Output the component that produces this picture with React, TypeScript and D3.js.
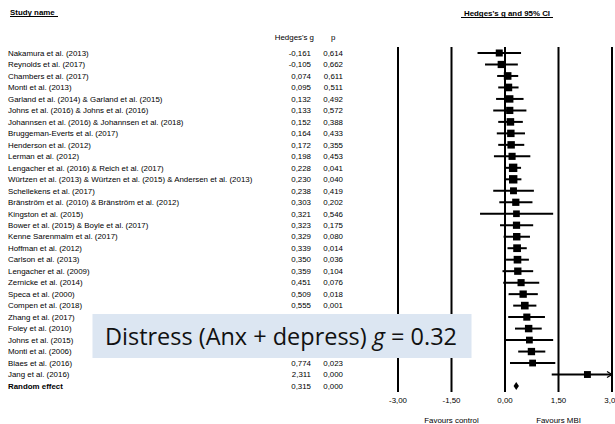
import React from 'react';
import * as d3 from 'd3';

// Study rows, top to bottom
const studies = [
  'Nakamura et al. (2013)',
  'Reynolds et al. (2017)',
  'Chambers et al. (2017)',
  'Monti et al. (2013)',
  'Garland et al. (2014) & Garland et al. (2015)',
  'Johns et al. (2016) & Johns et al. (2016)',
  'Johannsen et al. (2016) & Johannsen et al. (2018)',
  'Bruggeman-Everts et al. (2017)',
  'Henderson et al. (2012)',
  'Lerman et al. (2012)',
  'Lengacher et al. (2016) & Reich et al. (2017)',
  'Würtzen et al. (2013) & Würtzen et al. (2015) & Andersen et al. (2013)',
  'Schellekens et al. (2017)',
  'Bränström et al. (2010) & Bränström et al. (2012)',
  'Kingston et al. (2015)',
  'Bower et al. (2015) & Boyle et al. (2017)',
  'Kenne Sarenmalm et al. (2017)',
  'Hoffman et al. (2012)',
  'Carlson et al. (2013)',
  'Lengacher et al. (2009)',
  'Zernicke et al. (2014)',
  'Speca et al. (2000)',
  'Compen et al. (2018)',
  'Zhang et al. (2017)',
  'Foley et al. (2010)',
  'Johns et al. (2015)',
  'Monti et al. (2006)',
  'Blaes et al. (2016)',
  'Jang et al. (2016)',
];

const hedgesG = [
  -0.161, -0.105, 0.074, 0.095, 0.132, 0.133, 0.152, 0.164, 0.172, 0.198,
  0.228, 0.23, 0.238, 0.303, 0.321, 0.323, 0.329, 0.339, 0.35, 0.359,
  0.451, 0.509, 0.555, 0.612, 0.663, 0.684, 0.741, 0.774, 2.311,
];

const pValues = [
  0.614, 0.662, 0.611, 0.511, 0.492, 0.572, 0.388, 0.433, 0.355, 0.453,
  0.041, 0.04, 0.419, 0.202, 0.546, 0.175, 0.08, 0.014, 0.036, 0.104,
  0.076, 0.018, 0.001, 0.021, 0.0, 0.045, 0.0, 0.023, 0.0,
];

const ciLower = [
  -0.77, -0.56, -0.22, -0.19, -0.25, -0.33, -0.19, -0.23, -0.19, -0.31,
  0.01, 0.01, -0.33, -0.16, -0.7, -0.14, -0.04, 0.07, 0.03, -0.07,
  -0.05, 0.1, 0.23, 0.09, 0.28, 0.02, 0.37, 0.14, 1.31,
];

const ciUpper = [
  0.45, 0.36, 0.37, 0.38, 0.52, 0.6, 0.5, 0.56, 0.54, 0.71,
  0.45, 0.46, 0.81, 0.77, 1.35, 0.79, 0.7, 0.61, 0.67, 0.79,
  0.96, 0.92, 0.88, 1.12, 1.03, 1.35, 1.13, 1.41, 3.31,
];

// relative weights (%)
const weights = [
  3.2, 3.4, 3.8, 3.8, 3.6, 3.4, 3.7, 3.6, 3.6, 3.3,
  4.6, 4.6, 3.1, 3.4, 2.9, 3.4, 3.6, 3.9, 3.8, 3.5,
  3.3, 3.5, 3.8, 3.3, 3.6, 3.0, 3.5, 3.0, 3.1,
];

const pooled = { label: 'Random effect', g: 0.315, p: 0.0, lower: 0.24, upper: 0.39 };

const xTicks = [-3, -1.5, 0, 1.5, 3];

const fmt = (v: number) => v.toFixed(3).replace('.', ',');
const fmt2 = (v: number) => v.toFixed(2).replace('.', ',');

const FONT = '"Liberation Sans", Arial, sans-serif';

export default function App() {
  const width = 615;
  const height = 424;

  const rows = [...studies, pooled.label];
  const y = d3.scalePoint<string>().domain(rows).range([53, 386]);
  const x = d3.scaleLinear().domain([-3, 3]).range([398, 612]);
  const side = d3.scaleSqrt().domain([0, 4.6]).range([0, 8.4]);

  const fs = 7.9;
  const clip = (v: number) => Math.max(-3, Math.min(3, v));

  return (
    <svg
      width={width}
      height={height}
      style={{ position: 'absolute', left: 0, top: 0, background: '#fff' }}
      fontFamily={FONT}
    >
      <rect width={width} height={height} fill="#fff" />

      {/* headers */}
      <text x={10} y={12} dy="0.35em" fontSize={fs} fontWeight="bold">Study name</text>
      <line x1={10} x2={58} y1={16.5} y2={16.5} stroke="#000" strokeWidth={1} />
      <text x={507} y={13} dy="0.35em" fontSize={fs} fontWeight="bold" textAnchor="middle">
        Hedges's g and 95% CI
      </text>
      <line x1={461} x2={553} y1={17.5} y2={17.5} stroke="#000" strokeWidth={1} />
      <text x={314} y={37} dy="0.35em" fontSize={fs} textAnchor="end">Hedges's g</text>
      <text x={331} y={37} dy="0.35em" fontSize={fs}>p</text>

      {/* reference lines */}
      {xTicks.map(t => (
        <line key={t} x1={x(t)} x2={x(t)} y1={47} y2={392} stroke="#000" strokeWidth={2} />
      ))}

      {/* study rows */}
      {studies.map((s, i) => {
        const cy = y(s)!;
        const sz = side(weights[i]);
        const hi = clip(ciUpper[i]);
        return (
          <g key={s}>
            <text x={8} y={cy} dy="0.35em" fontSize={fs}>{s}</text>
            <text x={311} y={cy} dy="0.35em" fontSize={fs} textAnchor="end">{fmt(hedgesG[i])}</text>
            <text x={343} y={cy} dy="0.35em" fontSize={fs} textAnchor="end">{fmt(pValues[i])}</text>
            <line x1={x(ciLower[i])} x2={x(hi)} y1={cy} y2={cy} stroke="#000" strokeWidth={2} />
            {ciUpper[i] > 3 && (
              <path
                d={`M${x(3) - 5},${cy - 3} L${x(3)},${cy} L${x(3) - 5},${cy + 3}`}
                fill="none"
                stroke="#000"
                strokeWidth={1.2}
              />
            )}
            <rect x={x(hedgesG[i]) - sz / 2} y={cy - sz / 2} width={sz} height={sz} fill="#000" />
          </g>
        );
      })}

      {/* pooled */}
      {(() => {
        const cy = y(pooled.label)!;
        return (
          <g>
            <text x={8} y={cy} dy="0.35em" fontSize={fs} fontWeight="bold">{pooled.label}</text>
            <text x={311} y={cy} dy="0.35em" fontSize={fs} textAnchor="end">{fmt(pooled.g)}</text>
            <text x={343} y={cy} dy="0.35em" fontSize={fs} textAnchor="end">{fmt(pooled.p)}</text>
            <path
              d={`M${x(pooled.lower)},${cy} L${x(pooled.g)},${cy - 4} L${x(pooled.upper)},${cy} L${x(pooled.g)},${cy + 4} Z`}
              fill="#000"
            />
          </g>
        );
      })()}

      {/* axis labels */}
      {xTicks.map(t => (
        <text key={t} x={x(t)} y={400} dy="0.35em" fontSize={fs} textAnchor="middle">{fmt2(t)}</text>
      ))}
      <text x={x(-1.5)} y={420} dy="0.35em" fontSize={fs} textAnchor="middle">Favours control</text>
      <text x={x(1.5)} y={420} dy="0.35em" fontSize={fs} textAnchor="middle">Favours MBI</text>

      {/* overlay caption */}
      <rect x={92.5} y={314} width={379} height={44} fill="#dce6f2" />
      <text
        x={105}
        y={345}
        fontSize={24}
        fontFamily='"Open Sans", "Noto Sans", sans-serif'
        fill="#111"
        textLength={352}
        lengthAdjust="spacingAndGlyphs"
      >
        Distress (Anx + depress) <tspan fontStyle="italic">g</tspan> = 0.32
      </text>
    </svg>
  );
}
